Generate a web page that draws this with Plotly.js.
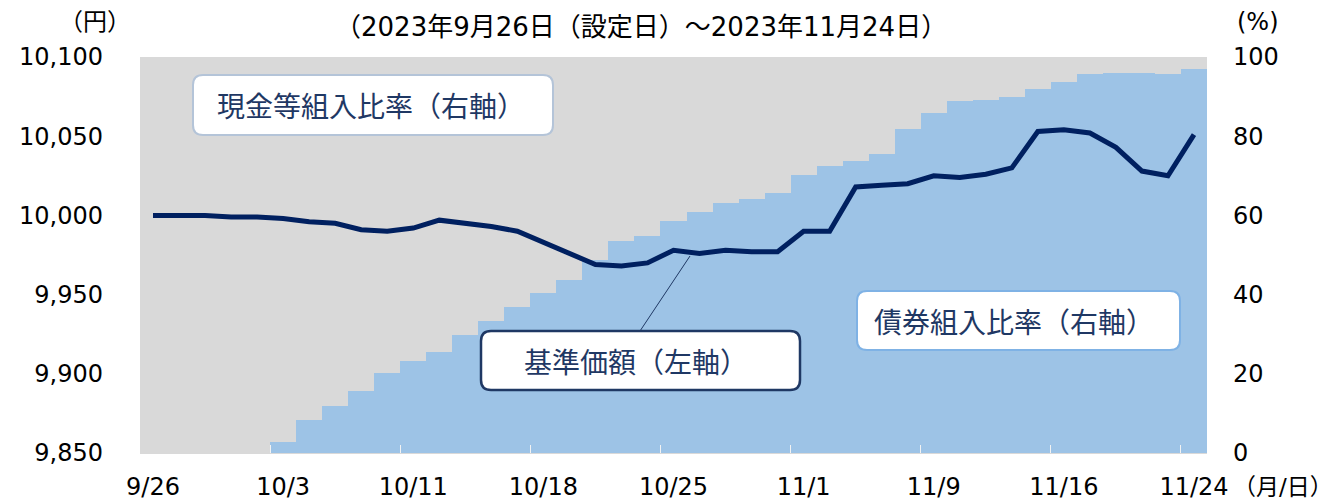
<!DOCTYPE html>
<html>
<head>
<meta charset="utf-8">
<script src="https://cdn.plot.ly/plotly-3.0.1.min.js"></script>
<style>html,body{margin:0;padding:0;background:#fff;}#chart{width:1338px;height:501px;}</style>
</head>
<body>
<div id="chart"></div>
<script>
// Business days 2023-09-26 .. 2023-11-24
const dates = ["9/26","9/27","9/28","9/29","10/2","10/3","10/4","10/5","10/6","10/10",
  "10/11","10/12","10/13","10/16","10/17","10/18","10/19","10/20","10/23","10/24",
  "10/25","10/26","10/27","10/30","10/31","11/1","11/2","11/6","11/7","11/8",
  "11/9","11/10","11/13","11/14","11/15","11/16","11/17","11/20","11/21","11/22","11/24"];
const tickLabels = ["9/26","10/3","10/11","10/18","10/25","11/1","11/9","11/16","11/24"];
// NAV (yen, left axis)
const nav = [10000,10000,10000,9999,9999,9998,9996,9995,9991,9990,
  9992,9997,9995,9993,9990,9983,9976,9969,9968,9970,
  9978,9976,9978,9977,9977,9990,9990,10018,10019,10020,
  10025,10024,10026,10030,10053,10054,10052,10043,10028,10025,10051];
// Bond ratio (%, right axis)
const bond = [0,0,0,0,0,2.9,8.3,11.9,15.6,20.1,
  23.2,25.4,29.7,33.3,36.8,40.3,43.7,48.7,53.5,54.8,
  58.6,60.9,63.2,64.1,65.6,70.1,72.5,73.8,75.5,81.7,
  85.9,88.8,89.1,90.0,91.8,93.6,95.6,96.0,96.0,95.8,96.9];
// Cash etc. ratio (%, right axis)
const cash = [100,100,100,100,100,97.1,91.7,88.1,84.4,79.9,
  76.8,74.6,70.3,66.7,63.2,59.7,56.3,51.3,46.5,45.2,
  41.4,39.1,36.8,35.9,34.4,29.9,27.5,26.2,24.5,18.3,
  14.1,11.2,10.9,10.0,8.2,6.4,4.4,4.0,4.0,4.2,3.1];

const idx = dates.map((d,i)=>i);
const tickIdx = tickLabels.map(t=>dates.indexOf(t));
const boundaryIdx = tickIdx.slice(1).map(i=>i-0.5);

// plot area in pixels
const PL=140, PR=1207, PT=57, PB=453;
const PW=PR-PL, PH=PB-PT;
const px = x => (x-PL)/PW;
const py = y => (PB-y)/PH;
function rrect(x0,y0,x1,y1,r){
  const P=(x,y)=>px(x).toFixed(5)+','+py(y).toFixed(5);
  return 'M'+P(x0+r,y0)+' L'+P(x1-r,y0)+' Q'+P(x1,y0)+' '+P(x1,y0+r)+
    ' L'+P(x1,y1-r)+' Q'+P(x1,y1)+' '+P(x1-r,y1)+
    ' L'+P(x0+r,y1)+' Q'+P(x0,y1)+' '+P(x0,y1-r)+
    ' L'+P(x0,y0+r)+' Q'+P(x0,y0)+' '+P(x0+r,y0)+' Z';
}

const NUMFONT = '"DejaVu Sans", "Noto Sans CJK JP", sans-serif';
const JPFONT = '"Noto Sans CJK JP", sans-serif';
const navy = '#1F3864';

const traces = [
  {type:'bar', x:idx, y:bond, name:'債券組入比率', marker:{color:'#9DC3E6', line:{width:0}}, hoverinfo:'skip', xaxis:'x', yaxis:'y'},
  {type:'bar', x:idx, y:cash, name:'現金等組入比率', marker:{color:'#D9D9D9', line:{width:0}}, hoverinfo:'skip', xaxis:'x', yaxis:'y'},
  {type:'scatter', mode:'lines', x:idx, y:nav, name:'基準価額', line:{color:'#002060', width:5}, hoverinfo:'skip', xaxis:'x', yaxis:'y2'}
];

const annFont = {family: JPFONT, size: 28, color: navy};
const layout = {
  width:1338, height:501,
  margin:{l:PL, r:1338-PR, t:PT, b:501-PB, pad:0},
  paper_bgcolor:'#ffffff', plot_bgcolor:'#D9D9D9',
  showlegend:false,
  barmode:'stack', bargap:0,
  font:{family:NUMFONT, size:24, color:'#000'},
  xaxis:{range:[-0.5, dates.length-0.5], tickmode:'array', tickvals:tickIdx, ticktext:tickLabels,
    ticks:'', showgrid:false, zeroline:false, showline:true, linecolor:'#D9D9D9', linewidth:1,
    ticklabelstandoff:12, tickfont:{family:NUMFONT, size:24, color:'#000'},
    minor:{tickmode:'array', tickvals:boundaryIdx, ticks:'inside', ticklen:8, tickcolor:'#F2F2F2', tickwidth:1, showgrid:false}},
  yaxis:{side:'right', range:[0,100], tickmode:'array', tickvals:[0,20,40,60,80,100], ticks:'',
    showgrid:false, zeroline:false, showline:false, ticklabelstandoff:25,
    tickfont:{family:NUMFONT, size:24, color:'#000'}},
  yaxis2:{overlaying:'y', side:'left', range:[9850,10100], tickmode:'array',
    tickvals:[9850,9900,9950,10000,10050,10100], tickformat:',d', ticks:'',
    showgrid:false, zeroline:false, showline:false, ticklabelstandoff:36,
    tickfont:{family:NUMFONT, size:24, color:'#000'}},
  shapes:[
    {type:'path', xref:'paper', yref:'paper', path:rrect(193,75,553,135,10), fillcolor:'#FFFFFF', line:{color:'#B4C4D8', width:2}},
    {type:'path', xref:'paper', yref:'paper', path:rrect(481,331,800,390,10), fillcolor:'#FFFFFF', line:{color:navy, width:2.5}},
    {type:'path', xref:'paper', yref:'paper', path:rrect(857,291,1180,350,10), fillcolor:'#FFFFFF', line:{color:'#7FB2E5', width:2}},
    {type:'line', xref:'paper', yref:'paper', x0:px(640), y0:py(331), x1:px(690), y1:py(256), line:{color:navy, width:1}}
  ],
  annotations:[
    {xref:'paper', yref:'paper', x:px(371), y:py(105), text:'現金等組入比率（右軸）', showarrow:false, xanchor:'center', yanchor:'middle', font:annFont},
    {xref:'paper', yref:'paper', x:px(636), y:py(361), text:'基準価額（左軸）', showarrow:false, xanchor:'center', yanchor:'middle', font:annFont},
    {xref:'paper', yref:'paper', x:px(1014), y:py(321), text:'債券組入比率（右軸）', showarrow:false, xanchor:'center', yanchor:'middle', font:annFont},
    {xref:'paper', yref:'paper', x:px(641), y:py(27), text:'（2023年9月26日（設定日）～2023年11月24日）', showarrow:false, xanchor:'center', yanchor:'middle', font:{family:NUMFONT, size:26, color:'#000'}},
    {xref:'paper', yref:'paper', x:px(95), y:py(22), text:'（円）', showarrow:false, xanchor:'center', yanchor:'middle', font:{family:NUMFONT, size:24, color:'#000'}},
    {xref:'paper', yref:'paper', x:px(1258), y:py(22), text:'(%)', showarrow:false, xanchor:'center', yanchor:'middle', font:{family:NUMFONT, size:24, color:'#000'}},
    {xref:'paper', yref:'paper', x:px(1335), y:py(487), text:'（月/日）', showarrow:false, xanchor:'right', yanchor:'middle', font:{family:NUMFONT, size:23, color:'#000'}}
  ]
};

Plotly.newPlot('chart', traces, layout, {displayModeBar:false, staticPlot:true});
</script>
</body>
</html>
